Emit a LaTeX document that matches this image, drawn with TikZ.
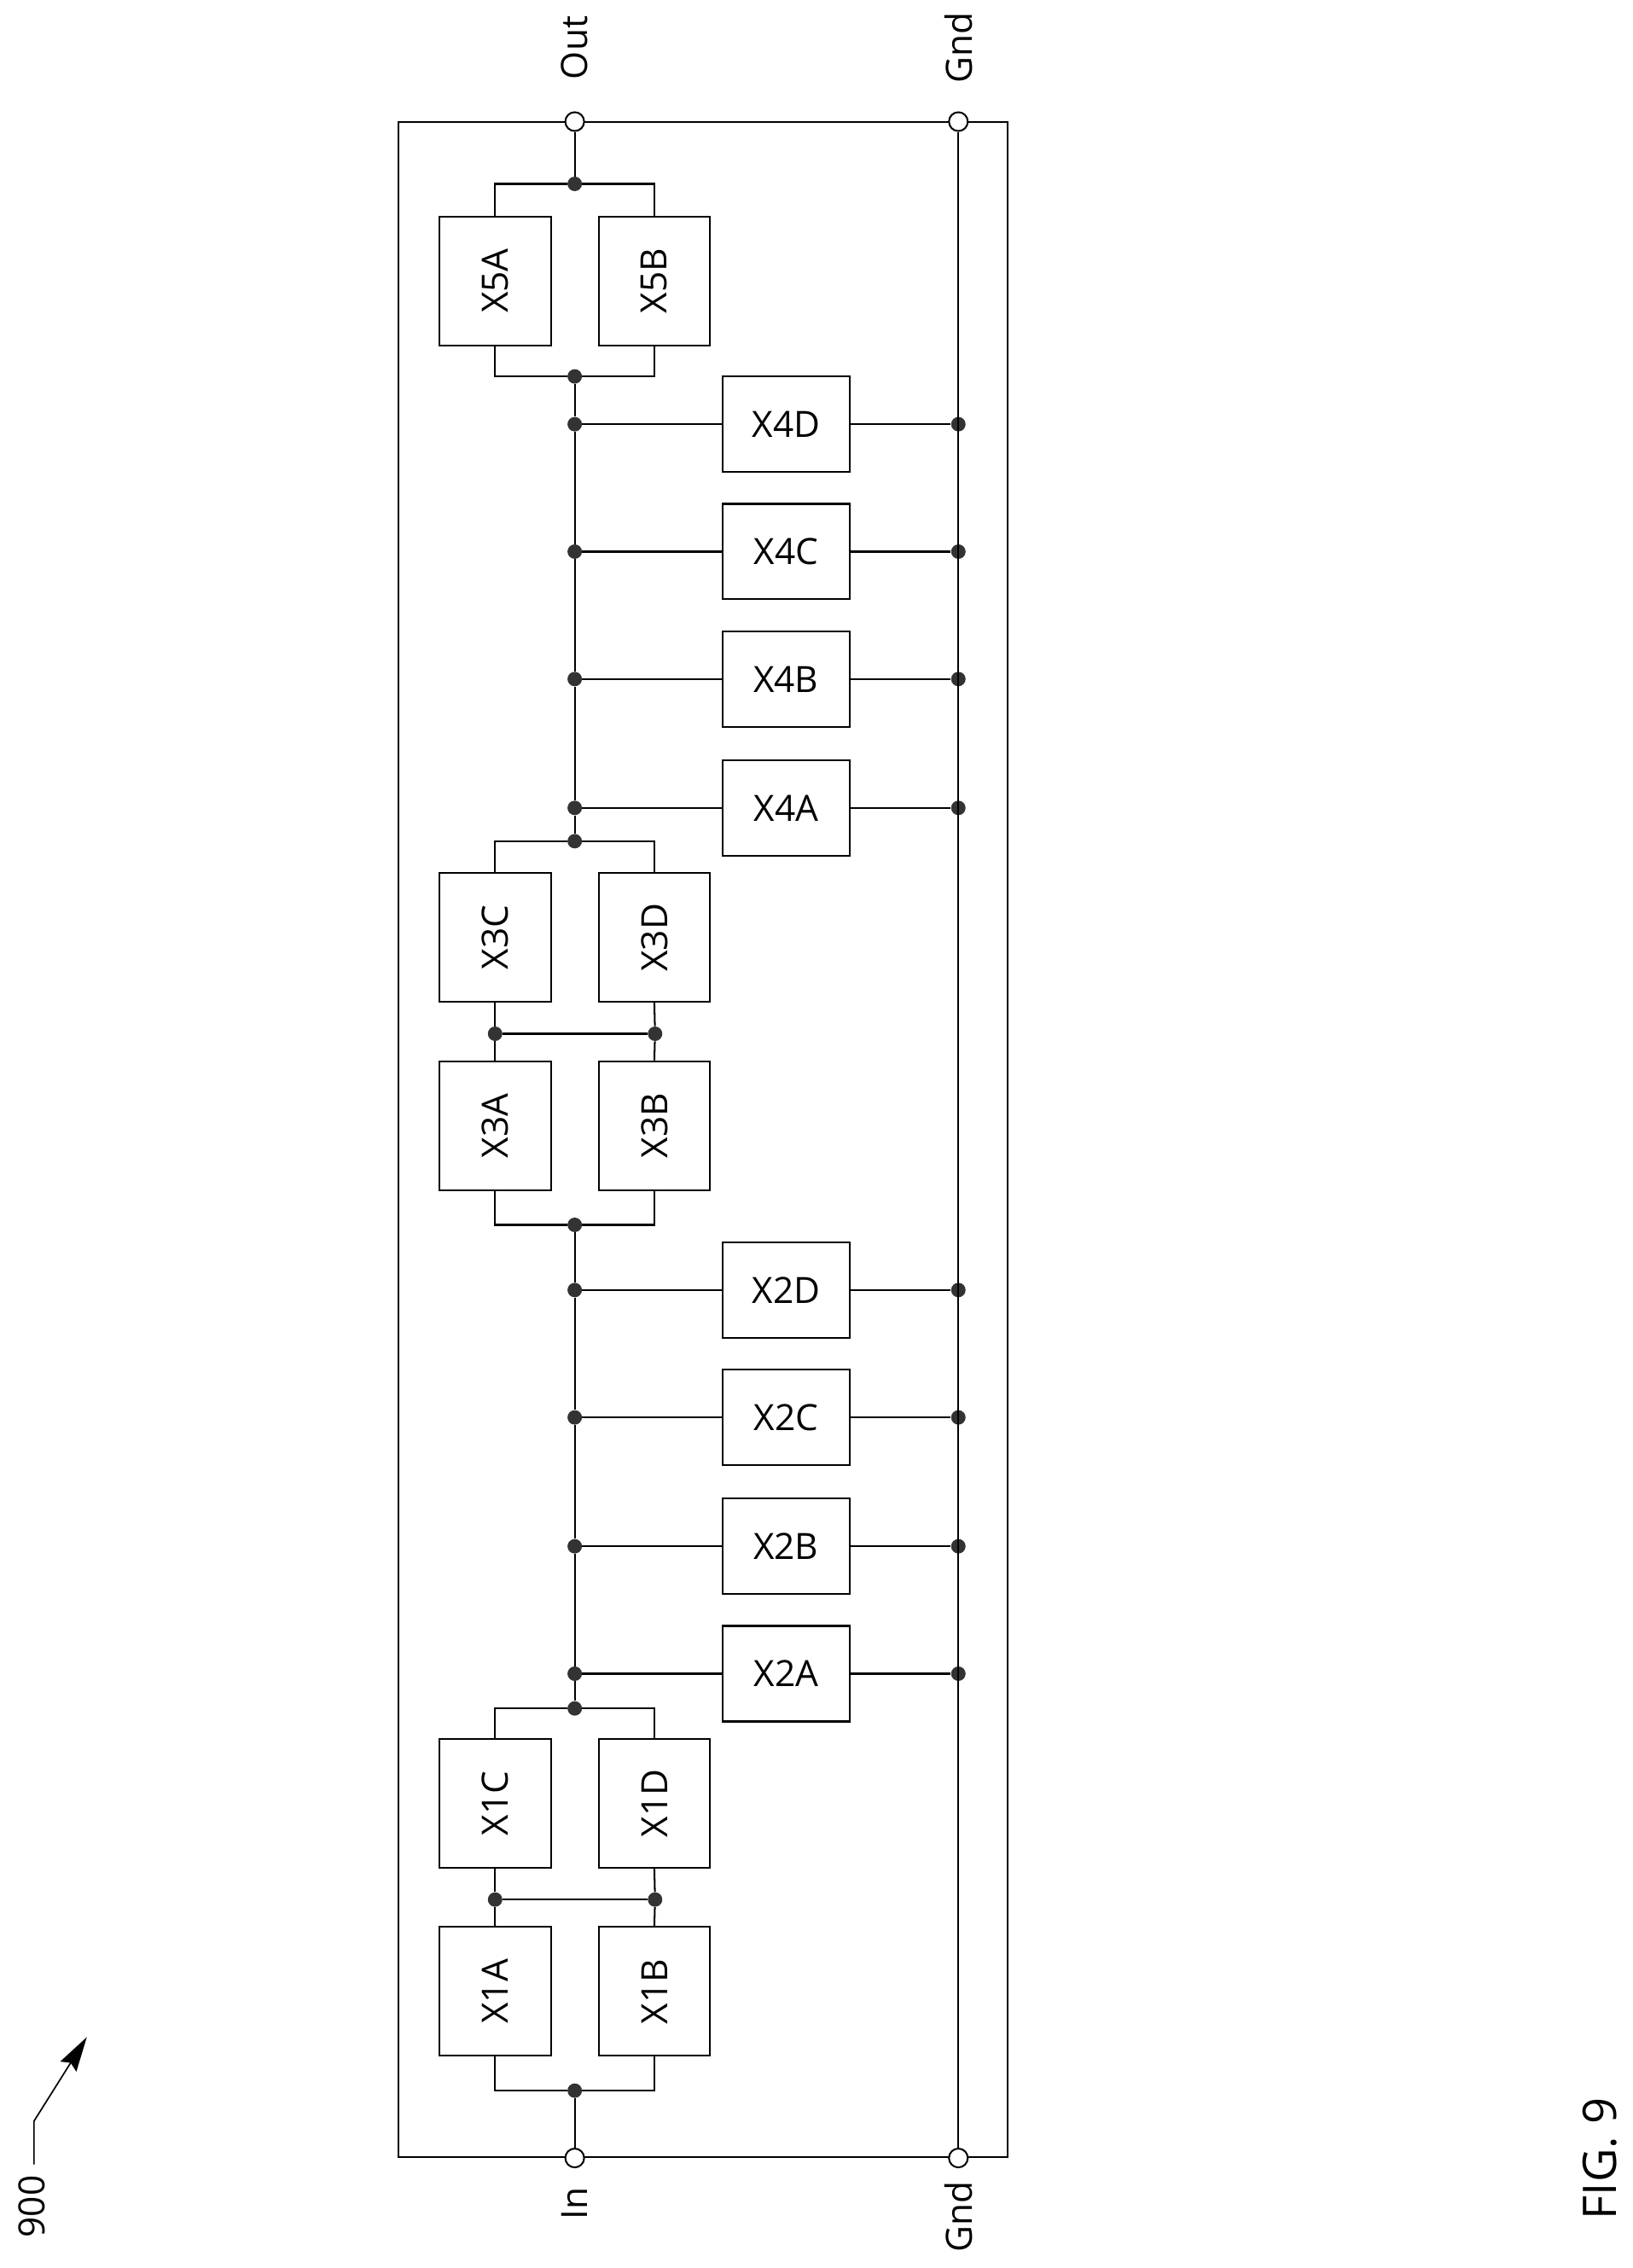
\documentclass[tikz,border=0pt]{standalone}
\usepackage{fontspec}
\setmainfont{Open Sans}
\usetikzlibrary{positioning,arrows.meta}
\tikzset{
  module/.style={draw, line width=1.2pt, align=center, inner sep=0pt, font=\fontsize{25}{25}\selectfont},
  long module/.style={module, rotate=90, minimum width=89pt, minimum height=77pt},
  short module/.style={module, minimum width=88pt, minimum height=66pt},
  pad/.style={circle, draw, line width=1.2pt, fill=white, inner sep=0pt, minimum size=13pt},
  dot/.style={circle, fill=black!80, inner sep=0pt, minimum size=10pt},
  wire/.style={line width=1.2pt},
  tag/.style={rotate=90, font=\fontsize{25}{25}\selectfont},
}
\begin{document}
\begin{tikzpicture}[x=1pt,y=-1pt]
\useasboundingbox (0,0) rectangle (1128,1566.5);
% the frame and its pads
\node [draw, line width=1.2pt, minimum width=421pt, minimum height=1406pt, inner sep=0pt] (frame) at (485.5,787) {};
\node [pad] (outp) at (397,84) {};
\node [pad] (inp) at (397,1490.5) {};
\node [pad] (gndT) at (662,84) {};
\node [pad] (gndB) at (662,1490.5) {};
\node [tag] (outL) at (397,33) {Out};
\node [tag] (gndTL) at (662,33) {Gnd};
\node [tag] (inL) at (397,1522) {In};
\node [tag] (gndBL) at (662,1531) {Gnd};
% the stacked modules
\node [long module] (X5A) at (342,194) {X5A};
\node [long module,right=31.8pt of X5A.south,anchor=north] (X5B) {X5B};
\node [long module] (X3C) at (342,647.5) {X3C};
\node [long module,right=31.8pt of X3C.south,anchor=north] (X3D) {X3D};
\node [long module,below=39.8pt of X3C.west,anchor=east] (X3A) {X3A};
\node [long module,right=31.8pt of X3A.south,anchor=north] (X3B) {X3B};
\node [long module] (X1C) at (342,1245.5) {X1C};
\node [long module,right=31.8pt of X1C.south,anchor=north] (X1D) {X1D};
\node [long module,below=39.8pt of X1C.west,anchor=east] (X1A) {X1A};
\node [long module,right=31.8pt of X1A.south,anchor=north] (X1B) {X1B};
% junctions on the main line
\foreach \jname/\jy in {top5/127,bot5/260,top3/581,bot3/846,top1/1180,bot1/1444}
  \node [dot] (\jname) at (397,\jy) {};
\node [dot] (mid3L) at (342,714) {};
\node [dot] (mid3R) at (452.5,714) {};
\node [dot] (mid1L) at (342,1312) {};
\node [dot] (mid1R) at (452.5,1312) {};
% the shunt modules, with their two wires
\foreach \mname/\my in {X4D/293,X4C/381,X4B/469,X4A/558,X2D/891,X2C/979,X2B/1068,X2A/1156}{
  \node [short module] (\mname) at (543,\my) {\mname};
  \node [dot] (rail\mname) at (397,\my) {};
  \node [dot] (gnd\mname) at (662,\my) {};
  \draw[wire] (rail\mname) -- (\mname);
  \draw[wire] (\mname) -- (gnd\mname);
}
%drawings of wires
\draw[wire] (outp) -- (top5);
\draw[wire] (top5) -| (X5A.east);
\draw[wire] (top5) -| (X5B.east);
\draw[wire] (X5A.west) |- (bot5);
\draw[wire] (X5B.west) |- (bot5);
\draw[wire] (bot5) -- (railX4D);
\draw[wire] (railX4D) -- (railX4C);
\draw[wire] (railX4C) -- (railX4B);
\draw[wire] (railX4B) -- (railX4A);
\draw[wire] (railX4A) -- (top3);

\draw[wire] (top3) -| (X3C.east);
\draw[wire] (top3) -| (X3D.east);
\draw[wire] (X3C.west) -- (mid3L);
\draw[wire] (X3D.west) -- (mid3R);
\draw[wire] (mid3L) -- (mid3R);
\draw[wire] (mid3L) -- (X3A.east);
\draw[wire] (mid3R) -- (X3B.east);
\draw[wire] (X3A.west) |- (bot3);
\draw[wire] (X3B.west) |- (bot3);

\draw[wire] (bot3) -- (railX2D);
\draw[wire] (railX2D) -- (railX2C);
\draw[wire] (railX2C) -- (railX2B);
\draw[wire] (railX2B) -- (railX2A);
\draw[wire] (railX2A) -- (top1);

\draw[wire] (top1) -| (X1C.east);
\draw[wire] (top1) -| (X1D.east);
\draw[wire] (X1C.west) -- (mid1L);
\draw[wire] (X1D.west) -- (mid1R);
\draw[wire] (mid1L) -- (mid1R);
\draw[wire] (mid1L) -- (X1A.east);
\draw[wire] (mid1R) -- (X1B.east);
\draw[wire] (X1A.west) |- (bot1);
\draw[wire] (X1B.west) |- (bot1);
\draw[wire] (bot1) -- (inp);

\draw[wire] (gndT) -- (gndB);
% reference numeral and figure label
\node [tag] (ref900) at (22,1524) {900};
\coordinate (refA) at (23.5,1495);
\coordinate (refB) at (23.5,1465);
\coordinate (refC) at (60,1407);
\draw[line width=1pt,-{Stealth[length=24pt,width=13pt,inset=3pt]}] (refA) -- (refB) -- (refC);
\node [rotate=90, font=\fontsize{32}{32}\selectfont] (fig) at (1105,1491) {FIG. 9};
\end{tikzpicture}
\end{document}
